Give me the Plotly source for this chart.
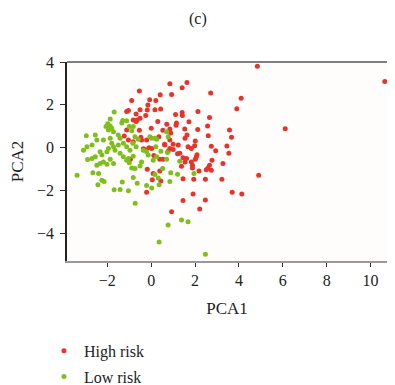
import plotly.graph_objects as go

# High risk group (PCA1, PCA2)
high_pca1 = [-1.04, -1.12, -1.12, -1.04, -1.23,
             0.85, -0.54, 0.93, 0.41, -0.89, -0.07, 0.21, -0.15, 0.17, 0.43, -0.18, 1.11, -0.69, -0.25,
             -0.51, -0.64, -0.69, -0.82, 0.30, 0.71, 1.15, 1.13, -0.54, 0.00, 0.53, 0.85, 0.35, 0.89,
             0.85, -0.47, -0.44, -0.21, 0.61, 1.00, -0.10, 0.02, -0.29, -0.36, 0.77, 0.85, 1.20, -0.82,
             0.62, 1.23, 1.00, -0.51,
             4.84, 10.65, 1.63, 1.41, 2.71, 4.10, 3.90, 2.13, 1.41, 1.42, 1.72, 2.66, 6.11, 3.57, 1.53,
             2.12, 2.57, 1.63, 1.54, 2.60, 3.66, 2.01, 1.98, 2.74, 3.45, 2.94, 3.54, 2.09, 1.30, 1.68, 1.83,
             0.12, 0.39, 0.54, -0.18, 0.09, 0.05, -0.21, 0.44, -0.95, 0.39,
             1.61, 1.54, 1.45, 1.83, 1.88, 1.88, 2.06, 2.01, 2.77, 3.27, 2.66, 2.59, 2.51, 2.74, 1.38,
             2.18, 1.45, 1.94, 2.47, 3.22, 3.69, 4.13, 1.91, 1.45, 2.47, 2.21, 0.93, 4.90]
high_pca2 = [1.74, 1.69, 0.83, 0.36, 0.55,
             2.98, 2.65, 2.48, 2.47, 2.21, 2.24, 2.20, 2.00, 1.77, 1.81, 1.76, 1.55, 1.57, 1.51,
             1.38, 1.30, 1.22, 1.30, 1.22, 1.10, 1.15, 1.05, 0.82, 0.91, 0.82, 0.88, 0.52, 0.69,
             0.36, 0.49, 0.36, 0.36, 0.16, 0.17, 0.00, -0.03, -0.08, -0.05, -0.16, -0.03, -0.28, 0.28,
             0.13, 0.13, -0.08, 1.77,
             3.80, 3.09, 3.04, 2.80, 2.56, 2.31, 1.82, 1.69, 1.65, 1.51, 1.21, 1.41, 0.89, 0.83, 0.87,
             0.85, 1.02, 0.60, 0.44, 0.56, 0.49, 0.32, 0.09, 0.07, 0.08, -0.14, -0.25, -0.33, -0.26, 0.05, -0.03,
             -0.36, -0.53, -0.53, -1.00, -1.20, -1.49, -2.07, -1.55, -0.54, -1.08,
             -0.50, -0.66, -0.47, -0.66, -0.81, -0.94, -0.42, -0.53, -0.58, -0.73, -0.81, -0.94, -1.02, -1.05, -0.86,
             -1.08, -1.44, -1.47, -1.47, -1.47, -2.07, -2.15, -2.15, -2.46, -2.43, -2.85, -2.98, -1.28]

# Low risk group (PCA1, PCA2)
low_pca1 = [-1.69, -1.98, -2.06, -1.87, -1.95, -1.80, -1.72, -2.96, -1.30, -1.12, -1.00, -0.82, -0.89,
            -1.50, -1.42, -2.18, -2.48, -2.70, -2.93, -3.09, -1.87, -1.80, -1.72, -1.65, -1.95, -2.02,
            -1.50, -1.27, -1.12, -0.97, -2.33, -1.42, -0.74, -0.59, -0.36, -0.21, -0.06, 0.02, 0.17,
            0.70, 0.77, -1.87, -1.34, 0.25, -0.84, -0.69, 0.21, 0.44, 0.74, -2.55,
            -2.25, -2.55, -2.70, -2.90, -2.18, -2.02, -2.33, -2.48, -1.72, -1.27, -1.04, -1.00,
            -0.14, 0.09, 0.25, -0.74, 0.52, -3.38,
            -1.87, -1.12, -0.44, -0.51, -0.89, -2.66, -2.40, -2.25, -2.15, -2.43, -1.32, -0.82, -0.64,
            -0.21, 0.02, 0.32, 0.36, -1.69, -1.42, -1.04, -0.73, 0.36,
            0.70, 1.30, 0.89, 1.20, 1.95, 0.85, 1.38, 1.68, 0.77, 2.47, -0.82, 0.17]
low_pca2 = [1.67, 1.12, 0.99, 1.02, 0.83, 0.91, 0.75, 0.56, 1.27, 1.26, 0.99, 0.99, 0.79,
            0.60, 0.44, 0.36, 0.36, 0.13, 0.05, -0.11, 0.44, 0.21, 0.05, -0.11, -0.03, -0.19,
            0.13, 0.21, 0.05, -0.11, -0.19, -0.26, 0.52, 0.40, -0.11, -0.19, 0.52, 0.44, 0.44,
            0.75, 0.52, 1.34, 1.15, 0.40, 0.21, 0.05, 0.05, -0.16, -0.22, 0.60,
            -0.34, -0.42, -0.50, -0.55, -0.66, -0.77, -0.73, -0.81, -0.73, -0.42, -0.50, -0.70,
            -0.34, -0.58, -0.42, -0.97, -0.97, -1.28,
            -0.53, -0.58, -0.66, -0.85, -0.94, -1.16, -1.20, -1.52, -1.57, -1.72, -1.60, -1.39, -1.65,
            -1.76, -1.88, -1.41, -1.72, -1.96, -1.94, -2.00, -2.59, -4.39,
            -0.53, -0.63, -1.16, -1.24, -1.20, -1.57, -3.37, -3.45, -3.60, -4.97, -0.39, -1.25]

x_ticks = [-2, 0, 2, 4, 6, 8, 10]
y_ticks = [-4, -2, 0, 2, 4]

SERIF = "Liberation Serif, DejaVu Serif, serif"
RED = "#e8332a"
GREEN = "#7fbf1c"

fig = go.Figure()
fig.add_trace(go.Scatter(x=high_pca1, y=high_pca2, mode="markers", name="High risk",
                         legendgroup="high",
                         marker=dict(color=RED, size=5, line=dict(width=0))))
fig.add_trace(go.Scatter(x=low_pca1, y=low_pca2, mode="markers", name="Low risk",
                         legendgroup="low",
                         marker=dict(color=GREEN, size=5, line=dict(width=0))))

# the page adds an 8px body margin, so the figure is sized to fit the window width
fig.update_layout(
    width=379, height=377,
    margin=dict(l=59, r=0, t=54, b=124, autoexpand=False),
    paper_bgcolor="white",
    plot_bgcolor="#fefdfb",
    font=dict(family=SERIF, size=16, color="#222"),
    title=dict(text="(c)", x=0.501, xref="container", y=0.973, yref="container",
               xanchor="center", yanchor="middle", font=dict(family=SERIF, size=16, color="#222")),
    showlegend=True,
    legend=dict(orientation="v", x=-0.072, xanchor="left", y=-0.366, yanchor="top",
                font=dict(family=SERIF, size=16, color="#222"),
                traceorder="grouped", tracegroupgap=2, itemsizing="trace",
                bgcolor="rgba(0,0,0,0)"),
    shapes=[dict(type="line", xref="paper", yref="paper", x0=0, x1=1, y0=1, y1=1,
                 line=dict(color="#555", width=1.5))],
)
fig.update_xaxes(range=[-3.84, 10.75], tickvals=x_ticks, showgrid=False, zeroline=False,
                 showline=True, linecolor="#999", linewidth=1.5, automargin=False,
                 ticks="outside", ticklen=4, tickcolor="#333", tickwidth=1,
                 title=dict(text="PCA1", font=dict(family=SERIF, size=17), standoff=14),
                 tickfont=dict(family=SERIF, size=16))
fig.update_yaxes(range=[-5.28, 4.0], tickvals=y_ticks, showgrid=False, zeroline=False,
                 showline=True, linecolor="#222", linewidth=1.5, automargin=False,
                 ticks="outside", ticklen=5, tickcolor="#333", tickwidth=1,
                 ticklabelstandoff=3,
                 title=dict(text="PCA2", font=dict(family=SERIF, size=17), standoff=18),
                 tickfont=dict(family=SERIF, size=16))

fig.write_html("out.html")
